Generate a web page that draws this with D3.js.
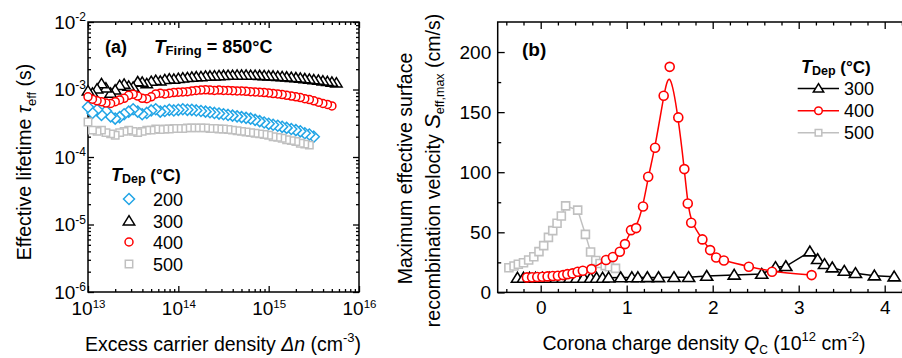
<!DOCTYPE html>
<html>
<head>
<meta charset="utf-8">
<script src="https://cdn.jsdelivr.net/npm/d3@7"></script>
<style>
  body { margin: 0; background: #fff; }
  svg { display: block; }
</style>
</head>
<body>
<svg id="chart" width="902" height="358"></svg>
<script>
// ---------- data, panel (a): lifetime vs injection ----------
const dn = [
  1.00e13, 1.12e13, 1.26e13, 1.41e13, 1.58e13, 1.78e13, 2.00e13, 2.24e13, 2.51e13, 2.82e13,
  3.16e13, 3.55e13, 3.98e13, 4.47e13, 5.01e13, 5.62e13, 6.31e13, 7.08e13, 7.94e13, 8.91e13,
  1.00e14, 1.12e14, 1.26e14, 1.41e14, 1.58e14, 1.78e14, 2.00e14, 2.24e14, 2.51e14, 2.82e14,
  3.16e14, 3.55e14, 3.98e14, 4.47e14, 5.01e14, 5.62e14, 6.31e14, 7.08e14, 7.94e14, 8.91e14,
  1.00e15, 1.12e15, 1.26e15, 1.41e15, 1.58e15, 1.78e15, 2.00e15, 2.24e15, 2.51e15, 2.82e15,
  3.16e15, 3.55e15, 3.98e15, 4.47e15, 5.01e15, 5.62e15
];
// effective lifetime in ms
const tau200 = [0.55,0.45,0.50,0.42,0.48,0.40,0.37,0.39,0.43,0.47, 0.51,0.47,0.43,0.45,0.49,0.51,0.47,0.48,0.50,0.49,
  0.50,0.51,0.50,0.50,0.49,0.48,0.47,0.46,0.45,0.44, 0.43,0.42,0.41,0.40,0.39,0.38,0.37,0.355,0.34,0.325,
  0.31,0.30,0.29,0.28,0.27,0.26,0.25,0.24,0.225,0.215, 0.20];
const tau300 = [0.95,0.88,1.02,1.22,1.05,0.88,0.98,1.15,1.20,1.12, 1.08,1.30,1.28,1.22,1.32,1.36,1.33,1.40,1.43,1.42,
  1.46,1.48,1.50,1.52,1.54,1.55,1.57,1.58,1.59,1.60, 1.61,1.62,1.62,1.63,1.63,1.63,1.62,1.62,1.61,1.60,
  1.59,1.58,1.56,1.55,1.53,1.51,1.49,1.47,1.44,1.42, 1.39,1.37,1.34,1.31,1.28,1.25];
const tau400 = [0.78,0.72,0.68,0.66,0.63,0.62,0.66,0.70,0.74,0.82, 0.85,0.80,0.74,0.73,0.78,0.86,0.88,0.86,0.88,0.90,
  0.91,0.92,0.93,0.95,0.97,0.98,0.99,0.98,0.97,0.98, 0.97,0.97,0.96,0.95,0.95,0.94,0.93,0.92,0.91,0.90,
  0.89,0.87,0.86,0.84,0.82,0.80,0.78,0.76,0.73,0.71, 0.68,0.65,0.62,0.60,0.57];
const tau500 = [0.33,0.25,0.24,0.25,0.23,0.22,0.21,0.23,0.24,0.25, 0.24,0.23,0.24,0.25,0.25,0.26,0.255,0.26,0.26,0.265,
  0.265,0.265,0.27,0.27,0.27,0.27,0.27,0.265,0.265,0.26, 0.26,0.255,0.25,0.245,0.24,0.235,0.23,0.225,0.22,0.215,
  0.21,0.20,0.195,0.19,0.18,0.175,0.17,0.16,0.155,0.15];

const dnTicks = [1e13, 1e14, 1e15, 1e16];
const tauTicks = [1e-6, 1e-5, 1e-4, 1e-3, 1e-2];
const depLabelsA = ['200', '300', '400', '500'];

// ---------- data, panel (b): S_eff,max vs corona charge ----------
const q300 = [-0.27,-0.20,-0.13,-0.06,0.02,0.10,0.18,0.26,0.34,0.42,0.50,0.58,0.65,0.72,0.79,0.93,1.06,1.13,1.24,1.37,
  1.55,1.72,1.93,2.25,2.57,2.73,2.85,3.13,3.22,3.30,3.39,3.53,3.66,3.88,4.11];
const s300 = [12,12,12,12,12,12,12,12,12,12,12,12,12,12,12.2,12.3,12.4,12.4,12.5,12.5,
  12.6,12.6,13.6,14.5,15.3,20.9,21.7,33.9,27.5,23.4,20.6,17.8,15.9,13.9,13.1];
const q400 = [-0.16,-0.10,-0.04,0.02,0.08,0.14,0.20,0.26,0.31,0.37,0.43,0.49,0.59,0.76,0.84,0.92,0.98,1.05,1.11,1.19,
  1.25,1.33,1.43,1.50,1.60,1.67,1.71,1.75,1.88,1.97,2.04,2.13,2.42,2.69,3.15];
const s400 = [12.5,12.6,12.8,13.0,13.3,13.6,13.9,14.4,15.2,15.8,17.2,18.0,19.4,27.0,29.5,33.8,40.2,51.8,53.5,71.5,
  96.2,120.4,163.6,187.7,145.6,102.6,74.0,58.0,44.1,35.2,29.1,26.5,21.4,17.2,14.4];
const q500 = [-0.37,-0.31,-0.26,-0.20,-0.14,-0.08,-0.02,0.035,0.09,0.14,0.19,0.24,0.29,0.43,0.52,0.58,0.64,0.69,0.75,0.80,0.87];
const s500 = [20.5,22.0,23.4,24.7,27.0,29.7,33.9,38.9,45.8,51.4,57.5,63.6,72.0,68.5,48.3,33.6,26.5,24.0,22.3,21.4,20.0];

const qTicks = [0, 1, 2, 3, 4];
const sTicks = [0, 50, 100, 150, 200];
const depLabelsB = ['300', '400', '500'];

// ---------- drawing ----------
const FONT = '"Liberation Sans", Arial, sans-serif';
const BLUE = '#22a5e6', RED = '#ff0000', GRAY = '#c0c0c0', BLACK = '#000';

const svg = d3.select('#chart').attr('font-family', FONT);

const markerD = {
  diamond: s => `M0,${-s}L${s},0L0,${s}L${-s},0Z`,
  triangle: s => `M0,${-s}L${s * 1.08},${s * 0.75}L${-s * 1.08},${s * 0.75}Z`,
  square: s => `M${-s},${-s}H${s}V${s}H${-s}Z`,
  circle: s => `M${s},0A${s},${s} 0 1,1 ${-s},0A${s},${s} 0 1,1 ${s},0Z`
};

function marker(g, type, s, color, x, y, sw) {
  g.append('path')
    .attr('d', markerD[type](s))
    .attr('transform', `translate(${x},${y})`)
    .attr('fill', '#fff')
    .attr('stroke', color)
    .attr('stroke-width', sw || 1.5);
}

function axis(g, gen, tr, vals, size, fmt, pad) {
  const a = g.append('g')
    .attr('transform', tr)
    .call(gen.tickValues(vals).tickSize(size).tickSizeOuter(0).tickFormat(fmt).tickPadding(pad || 3));
  a.select('.domain').remove();
  a.attr('font-family', FONT).attr('font-size', 19);
  a.selectAll('line').attr('stroke-width', 1.3);
  return a;
}

function supLabels(a, size, dy) {
  a.selectAll('.tick text').each(function (d) {
    const e = Math.round(Math.log10(d));
    const t = d3.select(this).text('10');
    t.append('tspan').attr('font-size', size).attr('dy', dy).text(e);
  });
}

// ----- panel (a) -----
const xA = d3.scaleLog().domain([1e13, 1e16]).range([88, 359]);
const yA = d3.scaleLog().domain([1e-6, 1e-2]).range([292, 22]);
const gA = svg.append('g');

const xMinorA = xA.ticks().filter(v => !dnTicks.includes(v));
const yMinorA = yA.ticks().filter(v => !tauTicks.some(t => Math.abs(t - v) / t < 1e-6));

axis(gA, d3.axisBottom(xA), 'translate(0,292)', xMinorA, -3, '');
supLabels(axis(gA, d3.axisBottom(xA), 'translate(0,292)', dnTicks, -6, null, 10), 11.5, '-0.62em');
axis(gA, d3.axisTop(xA), 'translate(0,22)', xMinorA, -3, '');
axis(gA, d3.axisTop(xA), 'translate(0,22)', dnTicks, -6, '');
axis(gA, d3.axisLeft(yA), 'translate(88,0)', yMinorA, -3, '');
supLabels(axis(gA, d3.axisLeft(yA), 'translate(88,0)', tauTicks, -6, null, 2), 12, '-0.62em');
axis(gA, d3.axisRight(yA), 'translate(359,0)', yMinorA, -3, '');
axis(gA, d3.axisRight(yA), 'translate(359,0)', tauTicks, -6, '');

gA.append('rect').attr('x', 88).attr('y', 22).attr('width', 271).attr('height', 270)
  .attr('fill', 'none').attr('stroke', BLACK).attr('stroke-width', 1.5);

const seriesA = [
  { v: tau200, type: 'diamond', s: 5.5, c: BLUE },
  { v: tau300, type: 'triangle', s: 5.3, c: BLACK },
  { v: tau400, type: 'circle', s: 4.0, c: RED },
  { v: tau500, type: 'square', s: 3.7, c: GRAY }
];
const ptsA = gA.append('g');
seriesA.forEach(sr => {
  for (let i = sr.v.length - 1; i >= 0; i--) {
    marker(ptsA, sr.type, sr.s, sr.c, xA(dn[i]), yA(sr.v[i] * 1e-3));
  }
});

// panel (a) texts
const tA = gA.append('text').attr('x', 105).attr('y', 53).attr('font-size', 18).attr('font-weight', 'bold');
tA.append('tspan').text('(a)');
const tF = gA.append('text').attr('x', 154).attr('y', 53).attr('font-size', 18).attr('font-weight', 'bold');
tF.append('tspan').attr('font-style', 'italic').attr('font-size', 19).text('T');
tF.append('tspan').attr('font-size', 13).attr('dy', 2).text('Firing');
tF.append('tspan').attr('dy', -2).text(' = 850°C');

const lgA = gA.append('g');
const hA = lgA.append('text').attr('x', 111).attr('y', 181).attr('font-size', 17).attr('font-weight', 'bold');
hA.append('tspan').attr('font-style', 'italic').attr('font-size', 18).text('T');
hA.append('tspan').attr('font-size', 12.5).attr('dy', 2).text('Dep');
hA.append('tspan').attr('dy', -2).text(' (°C)');
const legYA = [199, 221, 242, 264];
seriesA.forEach((sr, i) => {
  marker(lgA, sr.type, sr.s, sr.c, 129, legYA[i]);
  lgA.append('text').attr('x', 153).attr('y', legYA[i] + 6.5).attr('font-size', 18).text(depLabelsA[i]);
});

const yTitleA = svg.append('text').attr('transform', 'translate(31,162) rotate(-90)')
  .attr('text-anchor', 'middle').attr('font-size', 19.5);
yTitleA.append('tspan').text('Effective lifetime ');
yTitleA.append('tspan').attr('font-style', 'italic').text('τ');
yTitleA.append('tspan').attr('font-size', 13).attr('dy', 5).text('eff');
yTitleA.append('tspan').attr('dy', -5).text(' (s)');

const xTitleA = svg.append('text').attr('x', 223).attr('y', 351)
  .attr('text-anchor', 'middle').attr('font-size', 19.5);
xTitleA.append('tspan').text('Excess carrier density ');
xTitleA.append('tspan').attr('font-style', 'italic').text('Δn');
xTitleA.append('tspan').text(' (cm');
xTitleA.append('tspan').attr('font-size', 13).attr('dy', -9).text('-3');
xTitleA.append('tspan').attr('dy', 9).text(')');

// ----- panel (b) -----
const xB = d3.scaleLinear().domain([-0.5, 4.5]).range([497.7, 927.7]);
const yB = d3.scaleLinear().domain([0, 225]).range([292.4, 22]);
const gB = svg.append('g');

const xMinorB = d3.range(-4, 45, 2).map(v => v / 10).filter(v => !qTicks.includes(v));
const yMinorB = [25, 75, 125, 175];

axis(gB, d3.axisBottom(xB), 'translate(0,292.4)', xMinorB, -3.5, '');
axis(gB, d3.axisBottom(xB), 'translate(0,292.4)', qTicks, -7, d3.format('d'), 8);
axis(gB, d3.axisTop(xB), 'translate(0,22)', xMinorB, -3.5, '');
axis(gB, d3.axisTop(xB), 'translate(0,22)', qTicks, -7, '');
axis(gB, d3.axisLeft(yB), 'translate(497.7,0)', yMinorB, -3.5, '');
axis(gB, d3.axisLeft(yB), 'translate(497.7,0)', sTicks, -7, d3.format('d'), 6.5);

gB.append('rect').attr('x', 497.7).attr('y', 22).attr('width', 430).attr('height', 270.4)
  .attr('fill', 'none').attr('stroke', BLACK).attr('stroke-width', 1.5);

const seriesB = [
  { q: q500, s: s500, type: 'square', size: 4.0, c: GRAY, curve: d3.curveLinear },
  { q: q300, s: s300, type: 'triangle', size: 5.6, c: BLACK, curve: d3.curveLinear },
  { q: q400, s: s400, type: 'circle', size: 4.5, c: RED, curve: d3.curveBasis }
];
seriesB.forEach(sr => {
  const pts = sr.q.map((q, i) => [xB(q), yB(sr.s[i])]);
  gB.append('path').attr('d', d3.line().curve(sr.curve)(pts))
    .attr('fill', 'none').attr('stroke', sr.c).attr('stroke-width', 1.5);
  pts.forEach(p => marker(gB, sr.type, sr.size, sr.c, p[0], p[1], 1.6));
});

const tB = gB.append('text').attr('x', 522).attr('y', 56).attr('font-size', 19).attr('font-weight', 'bold').text('(b)');

const lgB = gB.append('g');
const hB = lgB.append('text').attr('x', 801).attr('y', 73).attr('font-size', 17).attr('font-weight', 'bold');
hB.append('tspan').attr('font-style', 'italic').attr('font-size', 18).text('T');
hB.append('tspan').attr('font-size', 12.5).attr('dy', 2).text('Dep');
hB.append('tspan').attr('dy', -2).text(' (°C)');
const legB = [
  { type: 'triangle', size: 4.8, c: BLACK },
  { type: 'circle', size: 3.8, c: RED },
  { type: 'square', size: 3.3, c: GRAY }
];
const legYB = [88.5, 110.7, 132.7];
legB.forEach((m, i) => {
  lgB.append('line').attr('x1', 797.7).attr('x2', 839).attr('y1', legYB[i]).attr('y2', legYB[i])
    .attr('stroke', m.c).attr('stroke-width', 1.5);
  marker(lgB, m.type, m.size, m.c, 818.5, legYB[i], 1.5);
  lgB.append('text').attr('x', 844).attr('y', legYB[i] + 6.3).attr('font-size', 18).text(depLabelsB[i]);
});

const yTitleB1 = svg.append('text').attr('transform', 'translate(412,168.5) rotate(-90)')
  .attr('text-anchor', 'middle').attr('font-size', 19.5).text('Maximum effective surface');
const yTitleB2 = svg.append('text').attr('transform', 'translate(440,170.5) rotate(-90)')
  .attr('text-anchor', 'middle').attr('font-size', 19.5);
yTitleB2.append('tspan').text('recombination velocity ');
yTitleB2.append('tspan').attr('font-style', 'italic').attr('font-size', 22).text('S');
yTitleB2.append('tspan').attr('font-size', 12.5).attr('dy', 4).text('eff,max');
yTitleB2.append('tspan').attr('dy', -4).text(' (cm/s)');

const xTitleB = svg.append('text').attr('x', 704).attr('y', 350)
  .attr('text-anchor', 'middle').attr('font-size', 19.5);
xTitleB.append('tspan').text('Corona charge density ');
xTitleB.append('tspan').attr('font-style', 'italic').text('Q');
xTitleB.append('tspan').attr('font-size', 12).attr('dy', 3.5).text('C');
xTitleB.append('tspan').attr('dy', -3.5).text(' (10');
xTitleB.append('tspan').attr('font-size', 13).attr('dy', -9).text('12');
xTitleB.append('tspan').attr('dy', 9).text(' cm');
xTitleB.append('tspan').attr('font-size', 13).attr('dy', -9).text('-2');
xTitleB.append('tspan').attr('dy', 9).text(')');
</script>
</body>
</html>
